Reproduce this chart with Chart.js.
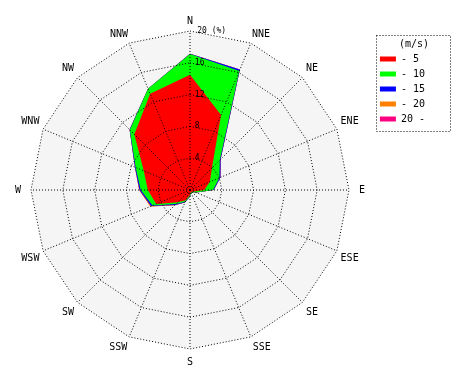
<!DOCTYPE html>
<html>
<head>
<meta charset="utf-8">
<script src="https://cdn.jsdelivr.net/npm/chart.js@4/dist/chart.umd.min.js"></script>
<style>
  html, body { margin: 0; padding: 0; background: #ffffff; }
  #wrap { width: 470px; height: 380px; }
</style>
</head>
<body>
<div id="wrap"><canvas id="c" width="470" height="380"></canvas></div>
<script>
// ---- data (frequency % per wind-speed class, per direction) ----
const directions = ['N','NNE','NE','ENE','E','ESE','SE','SSE','S','SSW','SW','WSW','W','WNW','NW','NNW'];
const speedClasses = ['- 5', '- 10', '- 15', '- 20', '20 -'];
const freqTo5    = [14.5, 10.2, 3.9, 2.7, 1.8, 0.5, 0.3, 0.3, 0.6, 1.4, 2.2, 4.6, 5.3, 6.3, 9.9, 13.1];
const freqTo10   = [2.6, 6.0, 1.4, 1.3, 1.1, 0.3, 0.1, 0.1, 0.2, 0.2, 0.3, 0.5, 0.9, 1.1, 0.8, 0.7];
const freqTo15   = [0.05, 0.2, 0.15, 0.15, 0.1, 0.05, 0, 0, 0.05, 0.1, 0.15, 0.2, 0.15, 0.1, 0.05, 0];
const freqTo20   = [0, 0, 0, 0, 0, 0, 0, 0, 0, 0, 0.05, 0.1, 0.05, 0, 0, 0];
const freqOver20 = [0, 0, 0, 0, 0, 0, 0, 0, 0, 0, 0, 0, 0, 0, 0, 0];
const tickValues = [0, 4, 8, 12, 16, 20];
const unitLabel = '(%)';
const legendTitle = '(m/s)';

// ---- styling ----
const MONO = "'DejaVu Sans Mono', 'Liberation Mono', monospace";
const classColors = ['#ff0000', '#00ff00', '#0000ff', '#ff8000', '#ff0080'];
const labelPadding = [4, 3, 5, 4, 10, 4, 5, 5, 7, 5, 5, 4, 10, 4, 5, 3];
const tickFontSize = 8;

// cumulative (stacked) values for the rose
const classSeries = [freqTo5, freqTo10, freqTo15, freqTo20, freqOver20];
const running = directions.map(() => 0);
const datasets = classSeries.map((series, k) => {
  const cum = series.map((v, i) => (running[i] += v, +running[i].toFixed(3)));
  return {
    label: speedClasses[k],
    data: cum,
    backgroundColor: classColors[k],
    borderColor: 'rgba(0,0,0,0)',
    borderWidth: 0,
    pointRadius: 0,
    fill: 'origin'
  };
});

const polarBackground = {
  id: 'polarBackground',
  beforeDatasetsDraw(chart) {
    const s = chart.scales.r, ctx = chart.ctx;
    const r = s.getDistanceFromCenterForValue(s.max);
    ctx.save();
    ctx.beginPath();
    for (let i = 0; i < chart.data.labels.length; i++) {
      const p = s.getPointPosition(i, r);
      if (i) ctx.lineTo(p.x, p.y); else ctx.moveTo(p.x, p.y);
    }
    ctx.closePath();
    ctx.fillStyle = '#f5f5f5';
    ctx.fill();
    ctx.restore();
  }
};

const legendFrame = {
  id: 'legendFrame',
  afterDraw(chart) {
    const lg = chart.legend, ctx = chart.ctx;
    ctx.save();
    ctx.setLineDash([1, 2]);
    ctx.strokeStyle = '#000';
    ctx.lineWidth = 1;
    ctx.strokeRect(Math.round(lg.left) + 1.5, Math.round(lg.top) + 21.5, 74, 96);
    ctx.restore();
  }
};

Chart.defaults.font.family = MONO;
Chart.defaults.color = '#000';

new Chart(document.getElementById('c'), {
  type: 'radar',
  data: { labels: directions, datasets },
  plugins: [polarBackground, legendFrame],
  options: {
    responsive: false,
    animation: false,
    layout: { padding: { left: 6, right: 35, top: 14, bottom: 10 } },
    elements: { line: { tension: 0, borderWidth: 0 }, point: { radius: 0 } },
    plugins: {
      tooltip: { enabled: false },
      legend: {
        display: true,
        position: 'right',
        align: 'start',
        title: {
          display: true,
          text: '   ' + legendTitle,
          color: '#000',
          font: { family: MONO, size: 10, lineHeight: 1 },
          padding: { top: 25, bottom: 0 }
        },
        labels: {
          boxWidth: 16,
          boxHeight: 5,
          padding: 5,
          color: '#000',
          font: { family: MONO, size: 10 }
        }
      }
    },
    scales: {
      r: {
        min: tickValues[0],
        max: tickValues[tickValues.length - 1],
        beginAtZero: true,
        grid: { z: 1, color: '#000', lineWidth: 1 },
        border: { dash: [1, 2] },
        angleLines: { display: true, color: '#000', lineWidth: 1, borderDash: [1, 2] },
        pointLabels: {
          display: true,
          color: '#000',
          font: { family: MONO, size: 10 },
          padding: (ctx) => labelPadding[ctx.index]
        },
        ticks: {
          z: 1,
          stepSize: tickValues[1] - tickValues[0],
          showLabelBackdrop: false,
          backdropPadding: -tickFontSize / 2,
          color: '#000',
          font: { family: MONO, size: tickFontSize },
          callback: (v) => {
            const last = v === tickValues[tickValues.length - 1];
            const s = last ? v + ' ' + unitLabel : String(v);
            return ' '.repeat(s.length + (last ? 3 : 2)) + s;
          }
        }
      }
    }
  }
});
</script>
</body>
</html>
